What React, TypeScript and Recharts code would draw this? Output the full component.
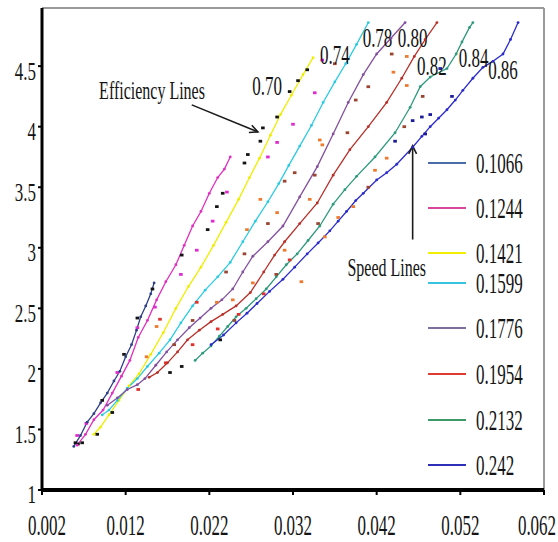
import React from 'react';
import {
  ComposedChart,
  Line,
  Scatter,
  XAxis,
  YAxis,
  Legend,
  ReferenceLine,
  ReferenceDot,
} from 'recharts';

// ---- axis ranges and tick labels ----
const X_MIN = 0.002;
const X_MAX = 0.062;
const Y_MIN = 1;
const Y_MAX = 4.98;
const xTicks = [0.002, 0.012, 0.022, 0.032, 0.042, 0.052, 0.062];
const xTickLabels = ['0.002', '0.012', '0.022', '0.032', '0.042', '0.052', '0.062'];
const yTicks = [1, 1.5, 2, 2.5, 3, 3.5, 4, 4.5];
const yTickLabels = ['1', '1.5', '2', '2.5', '3', '3.5', '4', '4.5'];

// ---- speed lines (x = flow coefficient, y = head coefficient) ----
const speedNames = ['0.1066', '0.1244', '0.1421', '0.1599', '0.1776', '0.1954', '0.2132', '0.242'];

const speed1066 = [
  [0.0058, 1.36], [0.0066, 1.45], [0.0074, 1.56], [0.0082, 1.63], [0.009, 1.72], [0.0098, 1.8],
  [0.0106, 1.9], [0.0113, 1.98], [0.012, 2.1], [0.0127, 2.2], [0.0133, 2.32], [0.0138, 2.43],
  [0.0144, 2.52], [0.015, 2.62], [0.0154, 2.71],
];
const speed1244 = [
  [0.0062, 1.37], [0.0072, 1.46], [0.0082, 1.58], [0.0093, 1.66], [0.0104, 1.8], [0.0115, 1.94],
  [0.0125, 2.07], [0.0135, 2.26], [0.0146, 2.4], [0.0157, 2.57], [0.0168, 2.72], [0.018, 2.86],
  [0.019, 3.02], [0.02, 3.18], [0.021, 3.3], [0.022, 3.45], [0.023, 3.58], [0.0238, 3.65], [0.0245, 3.75],
];
const speed1421 = [
  [0.0082, 1.46], [0.009, 1.52], [0.01, 1.62], [0.0112, 1.74], [0.0124, 1.86], [0.0136, 1.96],
  [0.015, 2.12], [0.0165, 2.3], [0.018, 2.5], [0.0195, 2.68], [0.021, 2.84], [0.0225, 3.02],
  [0.024, 3.21], [0.0255, 3.4], [0.0268, 3.58], [0.028, 3.74], [0.0293, 3.93], [0.0305, 4.1],
  [0.0318, 4.26], [0.0332, 4.43], [0.0344, 4.57],
];
const speed1599 = [
  [0.0092, 1.62], [0.01, 1.66], [0.011, 1.74], [0.0122, 1.84], [0.0134, 1.92], [0.0146, 2.02],
  [0.016, 2.13], [0.0173, 2.24], [0.0186, 2.38], [0.02, 2.52], [0.0215, 2.65], [0.023, 2.76],
  [0.0245, 2.88], [0.026, 3.05], [0.0275, 3.22], [0.029, 3.38], [0.0303, 3.53], [0.0315, 3.68],
  [0.0328, 3.84], [0.0342, 4.01], [0.0356, 4.2], [0.037, 4.37], [0.0383, 4.52], [0.0396, 4.68], [0.041, 4.86],
];
const speed1776 = [
  [0.0098, 1.7], [0.011, 1.76], [0.0122, 1.83], [0.0134, 1.87], [0.0143, 1.92], [0.0156, 2.03],
  [0.0169, 2.14], [0.0182, 2.24], [0.0196, 2.34], [0.0209, 2.42], [0.0222, 2.5], [0.0235, 2.57],
  [0.0248, 2.66], [0.026, 2.8], [0.0272, 2.93], [0.029, 3.05], [0.0308, 3.18], [0.0328, 3.42],
  [0.0349, 3.67], [0.0368, 3.94], [0.0386, 4.2], [0.0404, 4.43], [0.042, 4.6], [0.0437, 4.73], [0.0454, 4.86],
];
const speed1954 = [
  [0.0148, 1.93], [0.0158, 1.97], [0.017, 2.05], [0.0182, 2.14], [0.0194, 2.24], [0.0208, 2.32],
  [0.0222, 2.39], [0.0236, 2.45], [0.0252, 2.52], [0.0269, 2.63], [0.0285, 2.8], [0.0298, 2.94],
  [0.031, 3.05], [0.0328, 3.2], [0.0349, 3.37], [0.0368, 3.6], [0.0388, 3.81], [0.041, 4.0],
  [0.0432, 4.2], [0.045, 4.4], [0.0465, 4.58], [0.0478, 4.72], [0.0492, 4.86],
];
const speed2132 = [
  [0.0203, 2.07], [0.0212, 2.13], [0.0222, 2.19], [0.0232, 2.27], [0.0242, 2.35], [0.0252, 2.43],
  [0.0264, 2.5], [0.0276, 2.58], [0.0288, 2.66], [0.03, 2.76], [0.0312, 2.86], [0.0325, 2.95],
  [0.0338, 3.06], [0.0352, 3.18], [0.0368, 3.36], [0.0382, 3.48], [0.0396, 3.59], [0.0418, 3.75],
  [0.0442, 3.95], [0.046, 4.16], [0.0472, 4.33], [0.0484, 4.41], [0.0504, 4.48], [0.0515, 4.6],
  [0.0522, 4.7], [0.0531, 4.82], [0.0535, 4.86],
];
const speed242 = [
  [0.0222, 2.2], [0.0237, 2.28], [0.0252, 2.38], [0.0265, 2.46], [0.0277, 2.54], [0.0292, 2.64],
  [0.0308, 2.74], [0.0322, 2.84], [0.0337, 2.95], [0.035, 3.04], [0.0364, 3.14], [0.0374, 3.22],
  [0.0384, 3.3], [0.0395, 3.39], [0.0404, 3.45], [0.042, 3.56], [0.0432, 3.62], [0.0444, 3.69],
  [0.0463, 3.83], [0.0474, 3.92], [0.0484, 4.0], [0.0494, 4.07], [0.0504, 4.14], [0.0514, 4.22],
  [0.0523, 4.3], [0.0535, 4.4], [0.0547, 4.49], [0.0559, 4.54], [0.0571, 4.6], [0.058, 4.72],
  [0.0589, 4.86],
];

// ---- efficiency points ----
const effBlack = [
  [0.0337, 4.47], [0.0326, 4.38], [0.0316, 4.29], [0.0301, 4.08], [0.0284, 3.99], [0.0281, 3.88],
  [0.0266, 3.77], [0.0262, 3.7], [0.0236, 3.45], [0.0229, 3.34], [0.0218, 3.15], [0.0187, 2.94],
  [0.0152, 2.66], [0.0134, 2.42], [0.0118, 2.12], [0.0104, 1.64], [0.0086, 1.46], [0.006, 1.39],
  [0.0068, 1.39], [0.0173, 1.97], [0.0187, 2.02], [0.0233, 2.24], [0.0092, 1.74], [0.0063, 1.38],
];
const effNavy = [
  [0.0463, 4.05], [0.0474, 4.08], [0.0484, 4.1], [0.051, 4.25], [0.0496, 4.48], [0.0442, 3.88], [0.0478, 3.94],
];
const effMagenta = [
  [0.0346, 4.28], [0.032, 4.02], [0.0301, 3.87], [0.029, 3.75], [0.0241, 3.46], [0.0224, 3.22],
  [0.0205, 2.98], [0.0186, 2.78], [0.0155, 2.51], [0.0134, 2.34], [0.011, 1.97], [0.0073, 1.55],
  [0.0062, 1.45], [0.0355, 4.55],
];
const effOrange = [
  [0.0352, 3.89], [0.0355, 3.85], [0.034, 3.4], [0.0374, 3.25], [0.0358, 3.09], [0.0418, 3.64],
  [0.0432, 3.74], [0.0456, 4.58], [0.0456, 4.34], [0.0281, 3.4], [0.0265, 3.15], [0.0301, 3.29],
  [0.0157, 2.35], [0.0145, 2.1], [0.0229, 2.55], [0.0248, 2.57], [0.0272, 2.71], [0.031, 2.98],
  [0.033, 2.72], [0.0392, 3.34], [0.044, 4.45],
];
const effBrown = [
  [0.0322, 3.62], [0.0346, 3.6], [0.0385, 3.95], [0.041, 4.33], [0.0438, 4.6], [0.0395, 4.22],
  [0.037, 4.52], [0.031, 3.55], [0.029, 3.2], [0.0262, 2.95], [0.024, 2.8], [0.02, 2.4],
  [0.0178, 2.2], [0.041, 3.5], [0.0453, 4.0], [0.0475, 4.25], [0.035, 3.2], [0.03, 2.78], [0.025, 2.4],
];
const effRed = [
  [0.0316, 2.9], [0.0285, 2.62], [0.0255, 2.45], [0.023, 2.33], [0.02, 2.2], [0.0161, 2.41],
  [0.0168, 2.05], [0.0135, 1.83], [0.0205, 2.55],
];

// efficiency label names and where each one sits
const effLabels = ['0.70', '0.74', '0.78', '0.80', '0.82', '0.84', '0.86'];
const effLabelX = [0.0289, 0.037, 0.0421, 0.0463, 0.0486, 0.0536, 0.0571];
const effLabelY = [4.34, 4.59, 4.73, 4.73, 4.5, 4.57, 4.47];

// ---- styling ----
const SERIF = "'Liberation Serif', 'Times New Roman', Times, serif";
const speedColors = ['#2f3f88', '#e030c0', '#f0ee00', '#2ccbe2', '#84509e', '#b8302a', '#2e9a7c', '#2b2bcb'];
const legendColors = ['#4a6da7', '#d9469c', '#f2f000', '#35c3dd', '#7d6e9c', '#e03a32', '#3c9a6a', '#2e2eb8'];
const speedData = [speed1066, speed1244, speed1421, speed1599, speed1776, speed1954, speed2132, speed242];

const toPts = (rows: number[][]) => rows.map(([x, y]) => ({ x, y }));

const dash = (color: string) => (p: any) => (
  <rect x={p.cx - 1.8} y={p.cy - 1.4} width={3.6} height={2.8} fill={color} />
);

const StretchText = ({ x, y, sy, size, anchor, children }: any) => (
  <g transform={`translate(${x},${y}) scale(1,${sy})`}>
    <text x={0} y={0} dy="0.33em" textAnchor={anchor} fontSize={size} fontFamily={SERIF} fill="#141414">
      {children}
    </text>
  </g>
);

const YTick = (props: any) => {
  const { x, y, index } = props;
  return (
    <StretchText x={x} y={y + 5} sy={1.5} size={17} anchor="end">
      {yTickLabels[index]}
    </StretchText>
  );
};

const XTick = (props: any) => {
  const { x, y, index } = props;
  const cx = Math.min(Math.max(x, 47), 537);
  return (
    <StretchText x={cx} y={y + 28} sy={1.75} size={17} anchor="middle">
      {xTickLabels[index]}
    </StretchText>
  );
};

const Arrow = (p: any) => {
  const { x1, y1, x2, y2 } = p;
  const a = Math.atan2(y2 - y1, x2 - x1);
  const len = 9;
  const spread = 0.45;
  const hx1 = x2 - len * Math.cos(a - spread);
  const hy1 = y2 - len * Math.sin(a - spread);
  const hx2 = x2 - len * Math.cos(a + spread);
  const hy2 = y2 - len * Math.sin(a + spread);
  return (
    <g stroke="#1a1a1a" strokeWidth={1.6} fill="none">
      <line x1={x1} y1={y1} x2={x2} y2={y2} />
      <polyline points={`${hx1},${hy1} ${x2},${y2} ${hx2},${hy2}`} />
    </g>
  );
};

// vertical offsets of legend rows inside the legend box
const legendRowCenters = [13, 58, 103, 133, 178, 224, 270, 315];

const SpeedLegend = () => (
  <div style={{ position: 'relative', width: 138, height: 330, fontFamily: SERIF }}>
    {speedNames.map((name, i) => (
      <div key={name}>
        <div
          style={{
            position: 'absolute',
            left: 8,
            top: legendRowCenters[i] - 1,
            width: 38,
            height: 2,
            background: legendColors[i],
          }}
        />
        <span
          style={{
            position: 'absolute',
            left: 56,
            top: legendRowCenters[i] - 8.5,
            fontSize: 17,
            lineHeight: '17px',
            color: '#141414',
            transform: 'scaleY(1.75)',
            transformOrigin: 'center',
            whiteSpace: 'nowrap',
          }}
        >
          {name}
        </span>
      </div>
    ))}
  </div>
);

export default function App() {
  return (
    <div style={{ position: 'absolute', left: 0, top: 0, width: 558, height: 542, background: '#fff' }}>
      <ComposedChart width={558} height={542} margin={{ top: 8, right: 14, bottom: 0, left: 0 }}>
        <XAxis
          type="number"
          dataKey="x"
          domain={[X_MIN, X_MAX]}
          ticks={xTicks}
          allowDataOverflow
          height={52}
          axisLine={{ stroke: '#000', strokeWidth: 4 }}
          tickLine={{ stroke: '#000', strokeWidth: 2 }}
          tickSize={5}
          tick={<XTick />}
          interval={0}
        />
        <YAxis
          type="number"
          dataKey="y"
          domain={[Y_MIN, Y_MAX]}
          ticks={yTicks}
          allowDataOverflow
          width={42}
          axisLine={{ stroke: '#000', strokeWidth: 3 }}
          tickLine={{ stroke: '#000', strokeWidth: 2 }}
          tickSize={4}
          tick={<YTick />}
          interval={0}
        />
        <ReferenceLine y={Y_MAX} stroke="#9a9a9a" strokeWidth={2} />
        <ReferenceLine x={X_MAX} stroke="#9a9a9a" strokeWidth={2} />

        {speedData.map((rows, i) => (
          <Line
            key={speedNames[i]}
            name={speedNames[i]}
            data={toPts(rows)}
            dataKey="y"
            type="linear"
            stroke={speedColors[i]}
            strokeWidth={1.3}
            dot={{ r: 1.4, fill: speedColors[i], stroke: 'none' }}
            isAnimationActive={false}
          />
        ))}

        <Scatter data={toPts(effBlack)} fill="#141414" shape={dash('#141414')} isAnimationActive={false} />
        <Scatter data={toPts(effNavy)} fill="#1c1c9a" shape={dash('#1c1c9a')} isAnimationActive={false} />
        <Scatter data={toPts(effMagenta)} fill="#e22ad0" shape={dash('#e22ad0')} isAnimationActive={false} />
        <Scatter data={toPts(effOrange)} fill="#ee7a30" shape={dash('#ee7a30')} isAnimationActive={false} />
        <Scatter data={toPts(effBrown)} fill="#9a4530" shape={dash('#9a4530')} isAnimationActive={false} />
        <Scatter data={toPts(effRed)} fill="#e0322a" shape={dash('#e0322a')} isAnimationActive={false} />

        {effLabels.map((t, i) => (
          <ReferenceDot
            key={t}
            x={effLabelX[i]}
            y={effLabelY[i]}
            r={0}
            shape={(p: any) => (
              <StretchText x={p.cx} y={p.cy} sy={1.6} size={17} anchor="middle">
                {t}
              </StretchText>
            )}
          />
        ))}

        <ReferenceDot
          x={0.01515}
          y={4.3}
          r={0}
          shape={(p: any) => (
            <StretchText x={p.cx} y={p.cy} sy={1.6} size={16} anchor="middle">
              Efficiency  Lines
            </StretchText>
          )}
        />
        <ReferenceLine segment={[{ x: 0.0199, y: 4.18 }, { x: 0.0278, y: 3.957 }]} shape={Arrow} />

        <ReferenceDot
          x={0.0432}
          y={2.837}
          r={0}
          shape={(p: any) => (
            <StretchText x={p.cx} y={p.cy} sy={1.6} size={16} anchor="middle">
              Speed Lines
            </StretchText>
          )}
        />
        <ReferenceLine segment={[{ x: 0.0463, y: 3.068 }, { x: 0.0463, y: 3.842 }]} shape={Arrow} />

        <Legend
          layout="horizontal"
          verticalAlign="middle"
          align="center"
          content={<SpeedLegend />}
          wrapperStyle={{ left: 420, top: 150, width: 138, height: 330 }}
        />
      </ComposedChart>
    </div>
  );
}
